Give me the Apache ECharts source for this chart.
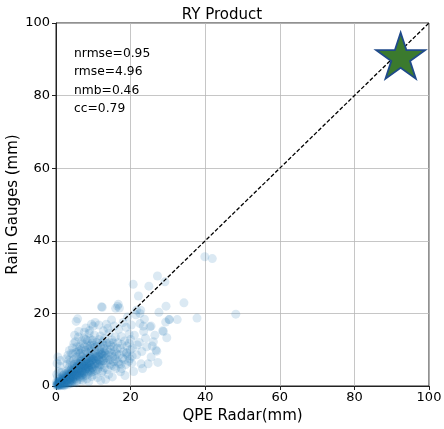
<!DOCTYPE html>
<html>
<head>
<meta charset="utf-8">
<script src="https://cdn.jsdelivr.net/npm/echarts@6/dist/echarts.min.js"></script>
<style>
html,body{margin:0;padding:0;background:#fff;}
#chart{width:444px;height:429px;}
</style>
</head>
<body>
<div id="chart"></div>
<script>
const chartTitle = 'RY Product';
const xAxisName = 'QPE Radar(mm)';
const yAxisName = 'Rain Gauges (mm)';
const axisTicks = [0, 20, 40, 60, 80, 100];
const statLines = ['nrmse=0.95', 'rmse=4.96', 'nmb=0.46', 'cc=0.79'];
const diagonalLine = [[0, 0], [100, 100]];
const starPoint = [[92.4, 91.0]];

// [QPE radar, rain gauge] pairs
const scatterPoints = [
[0.2,0.1],[0.3,0.5],[0.5,0.2],[0.6,0.8],[0.8,0.3],[0.9,1.2],[1.0,0.5],[1.1,0.1],[1.2,1.6],[1.3,0.8],[1.4,2.2],[1.5,0.3],[1.6,1.1],[1.7,0.6],[1.8,2.8],[1.9,1.5],[2.0,0.2],[2.1,0.9],[2.2,1.9],[2.3,3.4],[2.4,1.2],[2.5,0.5],[2.6,2.4],[2.7,1.6],[2.8,0.8],[2.9,4.2],[3.0,2.1],[0.4,2.5],[0.7,4.0],[0.3,6.2],[0.5,8.0],[1.0,5.5],[1.5,3.8],[0.2,3.2],[1.2,7.0],[0.8,1.9],[0.1,1.0],[1.9,0.4],[2.3,0.1],[2.6,1.0],[2.0,3.0],[1.4,1.3],[0.6,0.5],
[3.1,0.4],[3.2,1.5],[3.3,2.8],[3.4,5.0],[3.5,1.0],[3.6,3.6],[3.7,2.2],[3.8,6.4],[3.9,1.7],[4.0,4.4],[4.1,3.0],[4.2,0.8],[4.3,2.5],[4.4,5.8],[4.5,3.9],[4.6,1.4],[4.7,7.2],[4.8,2.9],[4.9,4.8],[5.0,3.3],[3.2,8.5],[3.6,9.8],[4.4,10.5],[4.0,1.2],[3.9,2.6],[4.6,2.1],[4.2,3.5],[3.4,3.9],[4.8,1.0],[3.0,6.0],[2.8,7.5],[4.5,8.8],[3.7,0.6],[4.9,6.0],
[5.1,2.0],[5.2,4.3],[5.3,6.7],[5.4,3.1],[5.5,8.0],[5.6,1.5],[5.7,5.2],[5.8,3.8],[5.9,9.5],[6.0,4.7],[6.1,2.7],[6.2,6.1],[6.3,3.4],[6.4,11.0],[6.5,5.5],[6.6,1.8],[6.7,7.4],[6.8,4.1],[6.9,3.0],[7.0,5.9],[5.8,18.5],[5.4,17.8],[5.2,12.2],[6.0,13.5],[6.8,10.2],[5.5,0.9],[6.3,8.8],[6.9,12.5],[5.6,10.8],[6.5,2.3],[5.0,14.0],[6.1,15.0],[7.0,3.8],[5.9,7.0],[6.6,9.0],
[7.1,2.4],[7.2,4.9],[7.3,6.5],[7.4,8.7],[7.5,3.5],[7.6,5.6],[7.7,10.8],[7.8,4.2],[7.9,7.0],[8.0,2.9],[8.1,6.0],[8.2,9.3],[8.3,4.7],[8.4,12.5],[8.5,5.3],[8.6,3.3],[8.7,7.8],[8.8,6.4],[8.9,14.5],[9.0,4.4],[9.1,8.1],[9.2,5.8],[9.3,10.4],[9.4,3.7],[9.5,6.9],[9.6,11.8],[9.7,5.1],[9.8,8.6],[9.9,4.0],[10.0,7.3],[7.5,13.2],[8.0,16.0],[9.0,15.3],[9.5,17.0],[8.5,11.0],[7.2,1.5],[8.3,2.0],[9.6,2.6],[7.9,9.8],[9.2,13.0],[8.8,1.2],[7.6,14.8],[10.0,16.5],[9.4,9.5],[8.1,7.5],
[10.2,3.1],[10.4,5.4],[10.6,8.0],[10.8,6.2],[11.0,10.9],[11.2,4.6],[11.4,7.4],[11.6,12.8],[11.8,5.8],[12.0,9.2],[12.2,3.8],[12.4,6.8],[12.6,11.4],[12.8,8.3],[13.0,5.0],[10.3,14.0],[11.5,16.8],[12.2,21.8],[10.9,12.0],[12.7,15.2],[11.1,2.3],[12.0,1.5],[10.5,9.6],[11.7,9.9],[12.5,4.1],[13.0,7.6],[10.1,11.2],[11.3,6.0],[12.9,10.3],[11.9,13.8],[10.7,4.3],[12.3,8.7],[13.0,13.0],[11.6,7.0],[10.5,17.5],
[13.2,9.0],[13.4,6.3],[13.6,11.8],[13.8,4.5],[14.0,8.4],[14.2,14.6],[14.4,7.2],[14.6,10.1],[14.8,5.6],[15.0,12.7],[15.2,8.0],[15.4,6.7],[15.6,16.5],[15.8,9.6],[16.0,4.8],[13.5,17.0],[14.1,3.2],[15.1,2.5],[15.9,13.5],[14.7,11.2],[13.9,15.9],[15.5,10.8],[16.0,7.4],[13.3,1.8],[14.9,18.2],
[16.3,8.8],[16.6,11.9],[16.9,6.1],[17.2,10.3],[17.5,13.6],[17.8,7.7],[18.1,9.4],[18.4,12.4],[18.7,5.9],[19.0,11.0],[19.3,8.3],[19.6,14.3],[19.9,10.0],[16.5,22.0],[17.0,21.5],[17.3,3.9],[18.8,16.2],[19.5,6.8],[20.0,12.8],[16.8,15.6],[18.0,17.5],[19.2,19.0],[17.6,4.8],[18.5,2.9],[19.8,7.5],[12.4,21.7],[16.7,22.5],[16.0,21.4],
[20.7,28.0],[22.1,24.8],[24.9,27.5],[22.7,20.9],[21.4,19.6],[23.7,18.4],[25.2,16.3],[20.3,6.3],[22.8,6.1],[24.7,6.1],[24.3,10.8],[20.5,10.5],[21.0,14.0],[21.6,8.6],[22.3,12.0],[23.0,9.5],[23.5,15.0],[24.0,13.2],[20.2,16.8],[21.8,11.3],[22.5,17.2],[20.8,4.0],[23.2,4.8],[21.6,20.9],[22.5,20.0],[23.4,16.5],[25.5,16.5],
[26.1,12.2],[26.8,9.9],[27.3,6.5],[27.2,30.3],[29.2,28.7],[28.8,15.0],[29.7,13.3],[30.4,18.3],[32.5,18.3],[27.6,20.3],[29.5,22.0],[34.3,22.9],[37.8,18.7],[39.9,35.6],[41.9,35.1],[48.2,19.8],[28.6,15.2],[30.3,18.3],[29.4,17.6],[25.8,11.0],[26.5,14.0],[25.5,8.0],[27.0,9.6],
[0.5,0.4],[0.9,0.7],[1.3,1.0],[1.7,1.2],[2.1,1.5],[2.5,1.9],[2.9,2.0],[3.3,2.4],[3.7,2.7],[4.1,3.2],[4.5,3.1],[4.9,3.6],[5.3,4.0],[5.7,4.2],[6.1,4.4],[6.5,4.8],[6.9,5.1],[7.3,5.4],[7.7,5.5],[8.1,6.0],[8.5,6.3],[8.9,6.4],[9.3,6.9],[9.7,7.2],[10.1,7.4],[10.5,7.6],[10.9,8.1],[11.3,8.2],[11.7,8.6],[12.1,8.9],[12.5,9.0],[12.9,9.4],
[0.3,0.9],[0.7,0.2],[1.1,1.4],[1.5,0.7],[1.9,2.1],[2.3,1.1],[2.7,2.6],[3.1,1.6],[3.5,3.2],[3.9,2.3],[4.3,4.1],[4.7,2.6],[5.1,4.9],[5.5,3.2],[5.9,5.6],[6.3,3.7],[6.7,6.2],[7.1,4.2],[7.5,6.8],[7.9,4.8],[8.3,7.4],[8.7,5.2],[9.1,7.6],[9.5,5.7],[9.9,8.4],[10.3,6.0],[10.7,8.9],[11.1,6.5],[11.5,9.5],[11.9,6.9],
[0.2,0.2],[0.4,0.6],[0.6,1.1],[0.8,0.1],[1.0,0.9],[1.2,0.4],[1.4,1.7],[1.6,0.2],[1.8,1.8],[2.0,1.0],[2.2,2.5],[2.4,0.6],[2.6,3.0],[2.8,1.3],[3.0,3.5],[3.2,0.9],[3.4,2.0],[3.6,1.3],[3.8,3.4],[4.0,2.0],[4.2,4.8],[4.4,1.6],[4.6,4.3],[4.8,2.3],[5.0,5.4],[5.2,2.6],[5.4,5.0],[5.6,2.9],[5.8,6.2],[6.0,3.2],[6.2,5.3],[6.4,2.7],[6.6,6.8],[6.8,3.6],[7.0,7.0],[7.2,3.0],[7.4,5.9],[7.6,3.9],[7.8,7.8],[8.0,4.6],[8.2,5.4],[8.4,3.8],[8.6,8.9],[8.8,4.9],[9.0,6.0],[9.2,4.1],[9.4,7.9],[9.6,5.0],[9.8,6.2],[10.0,4.6],
[3.5,7.2],[4.1,9.0],[4.8,11.8],[5.3,9.2],[6.2,10.0],[6.9,8.0],[7.3,11.6],[8.0,12.8],[8.7,10.2],[9.1,11.2],[9.8,12.6],[10.4,10.6],[11.2,11.8],[11.9,11.0],[12.6,12.2],[13.1,11.2],[13.7,10.0],[14.3,12.0],[14.9,9.0],[15.3,11.9],[15.8,8.2],[16.4,10.4],[17.0,8.6],[17.7,11.4],[18.3,7.2],[19.0,9.2],[19.6,11.8],[20.4,8.2],[13.5,7.8],[14.5,6.0],[15.6,5.4],[16.6,6.6],[17.4,6.0],[18.9,8.9],[12.0,6.0],[12.7,7.0],[13.9,7.0],[10.8,7.0],[11.5,5.2],[14.2,9.4]
];

const FONT = 'DejaVu Sans';
const chart = echarts.init(document.getElementById('chart'), null, {renderer: 'canvas'});

const starPath = 'path://M50,0 L61.23,34.55 L97.55,34.55 L68.17,55.9 L79.39,90.45 L50,69.1 L20.61,90.45 L31.83,55.9 L2.45,34.55 L38.77,34.55 Z';

const axisCommon = {
  type: 'value',
  min: axisTicks[0],
  max: axisTicks[axisTicks.length - 1],
  interval: axisTicks[1] - axisTicks[0],
  axisLine: {show: true, lineStyle: {color: '#222', width: 1}},
  axisTick: {show: true, length: 4, lineStyle: {color: '#222', width: 1}},
  splitLine: {show: true, lineStyle: {color: '#b8b8b8', width: 0.8}},
  nameLocation: 'middle',
  nameMoveOverlap: false,
  nameTextStyle: {fontFamily: FONT, fontSize: 15, color: '#000'}
};

const option = {
  backgroundColor: '#fff',
  animation: false,
  title: {
    text: chartTitle, left: 'center', top: 3,
    textStyle: {fontFamily: FONT, fontSize: 15, fontWeight: 'normal', color: '#000'}
  },
  grid: {left: 56, right: 15, top: 23, bottom: 43, outerBoundsMode: 'none', containLabel: false,
         show: true, borderColor: '#222', borderWidth: 1, backgroundColor: 'transparent'},
  xAxis: Object.assign({}, axisCommon, {
    name: xAxisName, nameGap: 23,
    axisLabel: {fontFamily: FONT, fontSize: 13, color: '#000', margin: 5}
  }),
  yAxis: Object.assign({}, axisCommon, {
    name: yAxisName, nameGap: 35,
    axisLabel: {fontFamily: FONT, fontSize: 13, color: '#000', margin: 6}
  }),
  graphic: statLines.map((t, i) => ({
    type: 'text', left: 74, top: 48 + i * 18.3, z: 10,
    style: {text: t, fontFamily: FONT, fontSize: 12.3, fill: '#000'}
  })),
  series: [
    {
      type: 'scatter', data: scatterPoints, symbolSize: 9,
      itemStyle: {color: 'rgba(31,119,180,0.2)'}, z: 2
    },
    {
      type: 'line', data: diagonalLine, symbol: 'none', z: 3,
      lineStyle: {color: '#000', width: 1.3, type: [4, 2]}
    },
    {
      type: 'scatter', data: starPoint, symbol: starPath, symbolSize: [49, 46], z: 4,
      itemStyle: {color: '#3b7a2e', borderColor: '#1f4a8a', borderWidth: 1.8, opacity: 1}
    }
  ]
};
chart.setOption(option);
</script>
</body>
</html>
